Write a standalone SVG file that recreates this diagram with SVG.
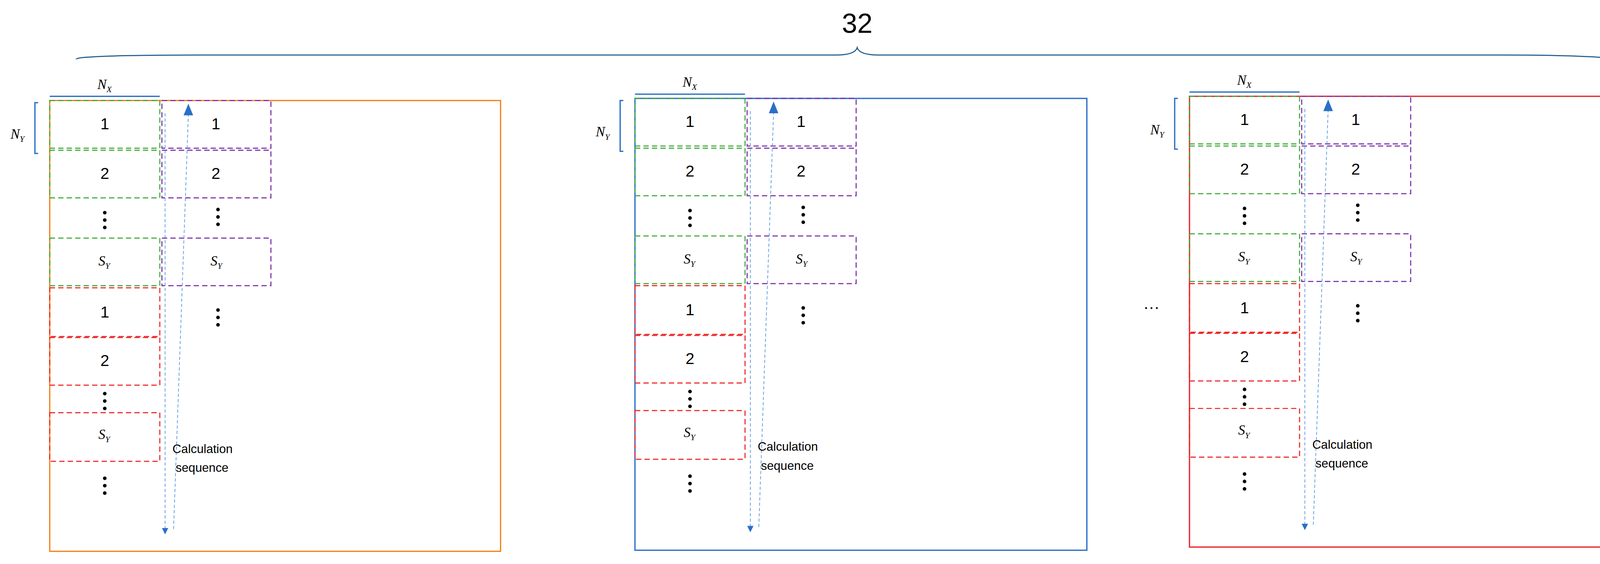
<svg xmlns="http://www.w3.org/2000/svg" width="4248" height="1444" viewBox="0 0 4248 1444">
<style>
.g{fill:none;stroke:#3aaa35;stroke-width:1;stroke-dasharray:5,3}
.p{fill:none;stroke:#7b2fa8;stroke-width:1;stroke-dasharray:5,3}
.r{fill:none;stroke:#ee2222;stroke-width:1;stroke-dasharray:5,3}
.n{font-family:"Liberation Sans",sans-serif;font-size:15px;text-anchor:middle;fill:#000}
.i{font-family:"Liberation Serif",serif;font-style:italic;font-size:13px;fill:#000}
.s{font-size:8px}
.c{font-family:"Liberation Sans",sans-serif;font-size:11.5px;fill:#000}
.d{fill:none;stroke:#4a8fdc;stroke-width:0.6;stroke-dasharray:3,2}
</style>
<defs>
<marker id="sm" markerWidth="6" markerHeight="6" refX="3" refY="3" orient="auto" markerUnits="userSpaceOnUse"><path d="M0,0 L6,3 L0,6 z" fill="#2a6fc7"/></marker>
<g id="dots"><circle cx="0" cy="-7" r="1.7"/><circle cx="0" cy="0" r="1.7"/><circle cx="0" cy="7" r="1.7"/></g>
<g id="panel">
<g id="hdr"><line x1="47" y1="91" x2="151" y2="91" stroke="#2a6fc7" stroke-width="1.2"/>
<text class="i" x="92" y="84">N<tspan class="s" dy="3">X</tspan></text>
<path d="M36,97 H33 V145 H36" fill="none" stroke="#2a6fc7" stroke-width="1.2"/>
<text class="i" x="10" y="131">N<tspan class="s" dy="3">Y</tspan></text></g>
<rect class="g" x="47" y="95" width="104" height="45"/><text class="n" x="99" y="122">1</text>
<rect class="g" x="47" y="142" width="104" height="45"/><text class="n" x="99" y="169">2</text>
<use href="#dots" x="99" y="208"/>
<rect class="g" x="47" y="225" width="104" height="45"/><text class="i" x="93" y="251">S<tspan class="s" dy="3">Y</tspan></text>
<rect class="p" x="153" y="95" width="103" height="45"/><text class="n" x="204" y="122">1</text>
<rect class="p" x="153" y="142" width="103" height="45"/><text class="n" x="204" y="169">2</text>
<use href="#dots" x="206" y="205"/>
<rect class="p" x="153" y="225" width="103" height="45"/><text class="i" x="199" y="251">S<tspan class="s" dy="3">Y</tspan></text>
<use href="#dots" x="206" y="300"/>
<rect class="r" x="47" y="272" width="104" height="46"/><text class="n" x="99" y="300">1</text>
<rect class="r" x="47" y="319" width="104" height="45"/><text class="n" x="99" y="346">2</text>
<use href="#dots" x="99" y="379"/>
<rect class="r" x="47" y="390" width="104" height="46"/><text class="i" x="93" y="415">S<tspan class="s" dy="3">Y</tspan></text>
<use href="#dots" x="99" y="459"/>
<g id="conn"><line class="d" x1="156" y1="107" x2="156" y2="502" marker-end="url(#sm)"/>
<line class="d" x1="164" y1="500" x2="178" y2="108"/>
<path d="M178,98 L182.5,109 L173.5,109 z" fill="#2a6fc7"/></g>
<text class="c" x="163" y="428">Calculation</text><text class="c" x="166" y="446">sequence</text>
</g>
</defs>
<rect width="4248" height="1444" fill="#fff"/>
<g transform="scale(2.70918)">
<g id="brace"><path d="M72,56 Q72,52 200,52 L790,52 Q808,52 810,45 Q812,52 830,52 L1420,52 Q1548,52 1548,62" fill="none" stroke="#1f5a8a" stroke-width="1"/>
<text x="810" y="31" font-family="Liberation Sans,sans-serif" font-size="26" text-anchor="middle">32</text></g>
<g id="panel1"><rect x="47" y="95" width="426" height="426" fill="none" stroke="#f58220" stroke-width="1.2"/><use href="#panel"/></g>
<g id="panel2" transform="translate(553,-2)"><rect x="47" y="95" width="427" height="427" fill="none" stroke="#2a6fc7" stroke-width="1.2"/><use href="#panel"/></g>
<g id="panel3" transform="translate(1077,-4)"><rect x="47" y="95" width="426" height="426" fill="none" stroke="#e8262a" stroke-width="1.2"/><use href="#panel"/></g>
<text x="1088" y="292" font-family="Liberation Sans,sans-serif" font-size="16" text-anchor="middle">…</text>
</g>
</svg>
